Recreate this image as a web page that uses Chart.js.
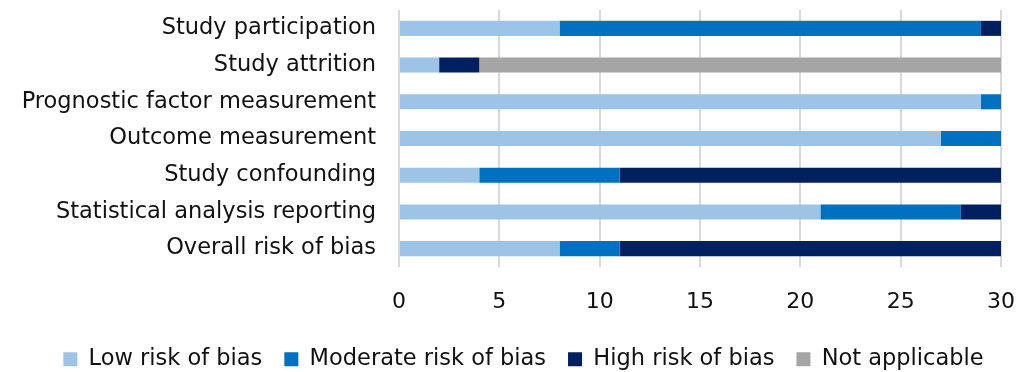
<!DOCTYPE html>
<html>
<head>
<meta charset="utf-8">
<script src="https://cdn.jsdelivr.net/npm/chart.js@4/dist/chart.umd.min.js"></script>
<style>
  html, body { margin: 0; padding: 0; background: #ffffff; }
  #wrap { width: 1016px; height: 372px; position: relative; }
</style>
</head>
<body>
<div id="wrap"><canvas id="c" width="1016" height="372"></canvas></div>
<script>
// Risk-of-bias domains and study counts per rating
const categories = [
  'Study participation',
  'Study attrition',
  'Prognostic factor measurement',
  'Outcome measurement',
  'Study confounding',
  'Statistical analysis reporting',
  'Overall risk of bias'
];
const lowRisk       = [8, 2, 29, 27, 4, 21, 8];
const moderateRisk  = [21, 0, 1, 3, 7, 7, 3];
const highRisk      = [1, 2, 0, 0, 19, 2, 19];
const notApplicable = [0, 26, 0, 0, 0, 0, 0];
const xTicks = [0, 5, 10, 15, 20, 25, 30];

const FONT = '"DejaVu Sans", sans-serif';
const TEXT = '#111111';

const ds = (label, data, color) => ({
  label, data, backgroundColor: color, borderWidth: 0,
  barPercentage: 0.82, categoryPercentage: 0.5
});

// Scales reserve room for half their edge labels; the layout padding handles that here.
const noEdgePadding = (axis) => {
  axis.paddingTop = 0; axis.paddingBottom = 0;
  axis.paddingLeft = 0; axis.paddingRight = 0;
};

// Nudge the legend row to the right so it sits under the plot.
const legendOffset = {
  id: 'legendOffset',
  afterLayout(chart) {
    const lg = chart.legend;
    if (lg) { lg.left += 23; lg.right += 23; }
  }
};

new Chart(document.getElementById('c'), {
  type: 'bar',
  data: {
    labels: categories,
    datasets: [
      ds('Low risk of bias', lowRisk, '#9dc3e6'),
      ds('Moderate risk of bias', moderateRisk, '#0070c0'),
      ds('High risk of bias', highRisk, '#002060'),
      ds('Not applicable', notApplicable, '#a5a5a5')
    ]
  },
  plugins: [legendOffset],
  options: {
    indexAxis: 'y',
    responsive: false,
    animation: false,
    layout: { padding: { top: 10, right: 15, left: 0, bottom: -8.5 } },
    plugins: {
      legend: {
        position: 'bottom',
        labels: {
          font: { family: FONT, size: 22.5 },
          color: TEXT,
          boxWidth: 14,
          boxHeight: 14,
          padding: 22
        }
      },
      tooltip: { enabled: false }
    },
    scales: {
      x: {
        stacked: true,
        min: 0, max: 30,
        afterBuildTicks: (axis) => { axis.ticks = xTicks.map(v => ({ value: v })); },
        afterFit: (axis) => { noEdgePadding(axis); axis.height = 59; },
        grid: { color: '#d9d9d9', lineWidth: 2, drawTicks: false },
        border: { display: false },
        ticks: { font: { family: FONT, size: 22 }, color: TEXT, padding: 22 }
      },
      y: {
        stacked: true,
        grid: { display: false, drawTicks: true, tickLength: 20 },
        border: { display: false },
        afterFit: (axis) => { noEdgePadding(axis); axis.width = 399; },
        ticks: { font: { family: FONT, size: 22.5 }, color: TEXT, padding: 3 }
      }
    }
  }
});
</script>
</body>
</html>
